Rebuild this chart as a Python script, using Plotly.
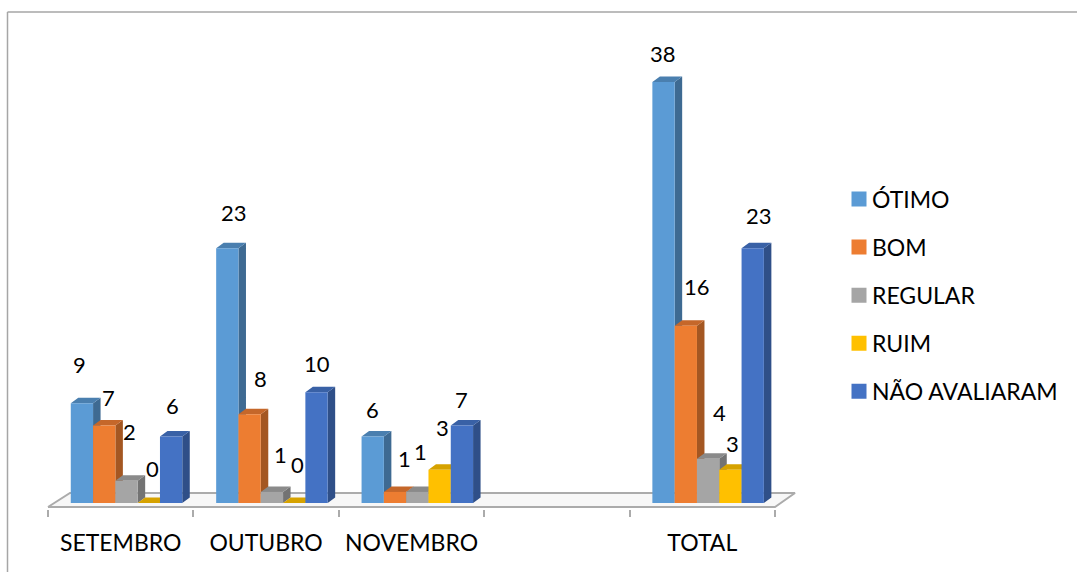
import plotly.graph_objects as go

# ---- data ----
categories = ["SETEMBRO", "OUTUBRO", "NOVEMBRO", "", "TOTAL"]
otimo = [9, 23, 6, None, 38]
bom = [7, 8, 1, None, 16]
regular = [2, 1, 1, None, 4]
ruim = [0, 0, 3, None, 3]
nao_avaliaram = [6, 10, 7, None, 23]
series_names = ["ÓTIMO", "BOM", "REGULAR", "RUIM", "NÃO AVALIARAM"]
series_values = [otimo, bom, regular, ruim, nao_avaliaram]

# ---- style ----
front_colors = ["#5B9BD5", "#ED7D31", "#A5A5A5", "#FFC000", "#4472C4"]
side_colors = ["#3E6A92", "#A45722", "#737373", "#B28600", "#2F4F88"]
top_colors = ["#4A7FAF", "#C5672A", "#8A8A8A", "#D6A200", "#3961A6"]
# label offsets in pixels from the top-centre of each bar (dx, dy), per series, per category
label_offsets = [
    [(-2, 39), (7, 36), (0, 27), None, (-1, 28)],
    [(4, 28), (11, 36), (9, 33), None, (11, 39)],
    [(3, 49), (9, 37), (3, 40), None, (11, 46)],
    [(4, 35), (3, 39), (3, 42), None, (2, 26)],
    [(1, 31), (0, 29), (0, 26), None, (6, 33)],
]
FONT = "Lato"
GREY = "#ABABAB"

PX_X = 145.4     # pixels per category
PX_Y = 11.08     # pixels per unit
BAR_W = 22.3 / PX_X
GROUP_SHIFT = 0.04
DX = 7.5 / PX_X   # depth
DY = 5.5 / PX_Y

fig = go.Figure()

# floor
fig.add_trace(go.Scatter(
    x=[0, 22 / PX_X, 5 + 20 / PX_X, 5, 0],
    y=[-0.36, 0.9, 0.9, -0.36, -0.36],
    mode="lines", fill="toself", fillcolor="#F7F7F7",
    line=dict(color=GREY, width=2), showlegend=False, hoverinfo="skip", zorder=0,
))

n = len(series_names)
for k, (name, vals) in enumerate(zip(series_names, series_values)):
    lefts = [g + 0.5 + GROUP_SHIFT + (k - n / 2) * BAR_W for g in range(len(categories))]
    side_x, side_y, top_x, top_y = [], [], [], []
    for l, v in zip(lefts, vals):
        if v is None:
            continue
        r = l + BAR_W
        side_x += [r, r + DX, r + DX, r, r, None]
        side_y += [0, DY, v + DY, v, 0, None]
        top_x += [l, l + DX, r + DX, r, l, None]
        top_y += [v, v + DY, v + DY, v, v, None]
    fig.add_trace(go.Scatter(x=side_x, y=side_y, mode="none", fill="toself",
                             fillcolor=side_colors[k], showlegend=False,
                             hoverinfo="skip", zorder=2 * k + 1))
    fig.add_trace(go.Scatter(x=top_x, y=top_y, mode="none", fill="toself",
                             fillcolor=top_colors[k], showlegend=False,
                             hoverinfo="skip", zorder=2 * k + 1))
    fig.add_trace(go.Bar(
        x=[g + 0.5 + GROUP_SHIFT for g in range(len(categories))], y=vals,
        width=BAR_W, offset=(k - n / 2) * BAR_W,
        marker=dict(color=front_colors[k], line=dict(width=0)),
        name=name, showlegend=False, zorder=2 * k + 2,
    ))
    # legend swatch
    fig.add_trace(go.Scatter(
        x=[None], y=[None], mode="markers", name=name,
        marker=dict(symbol="square", size=15, color=front_colors[k]),
        legendgroup=name,
    ))
    # value labels
    for g, v in enumerate(vals):
        if v is None:
            continue
        ox, oy = label_offsets[k][g]
        fig.add_annotation(
            x=lefts[g] + BAR_W / 2, y=v, text=str(v), showarrow=False,
            xshift=ox, yshift=oy, xanchor="center", yanchor="middle",
            font=dict(family=FONT, size=22, color="#000000"),
        )

# outer frame (paper coords)
L, R, T, B = 40, 272, 12, 63
W, H = 1077, 572
pw, ph = W - L - R, H - T - B
fx = lambda px: (px - L) / pw
fy = lambda py: (H - B - py) / ph
frame = dict(type="line", xref="paper", yref="paper",
             line=dict(color="#A6A6A6", width=1.5))
fig.add_shape(x0=fx(7.5), x1=fx(7.5), y0=fy(12), y1=fy(572), **frame)
fig.add_shape(x0=fx(7.5), x1=fx(1077), y0=fy(12), y1=fy(12), **frame)

fig.update_layout(
    width=W, height=H, autosize=False,
    margin=dict(l=L, r=R, t=T, b=B, pad=0),
    paper_bgcolor="white", plot_bgcolor="white",
    barmode="overlay",
    font=dict(family=FONT, size=23, color="#000000"),
    showlegend=True,
    legend=dict(x=fx(838), y=fy(177.5), xanchor="left", yanchor="top",
                bgcolor="rgba(0,0,0,0)", tracegroupgap=15.2, indentation=-6,
                font=dict(family=FONT, size=23), itemclick=False),
    xaxis=dict(
        range=[(L - 48) / PX_X, (1077 - R - 48) / PX_X],
        tickmode="array",
        tickvals=[g + 0.5 for g in range(len(categories))],
        ticktext=categories,
        ticks="outside", ticklen=13, tickcolor="rgba(0,0,0,0)",
        tickangle=0,
        showgrid=False, zeroline=False, showline=False,
        tickfont=dict(family=FONT, size=23),
        minor=dict(tickmode="linear", tick0=0, dtick=1, ticks="outside", ticklen=7,
                   tickwidth=1.5, tickcolor=GREY, showgrid=False),
    ),
    yaxis=dict(
        range=[(503 - (H - B)) / PX_Y, (503 - T) / PX_Y],
        visible=False, showgrid=False, zeroline=False,
    ),
)

fig.write_html(
    "out.html", config={"displayModeBar": False},
    post_script=(
        "document.body.style.margin='0';document.body.style.overflow='hidden';"
        "document.querySelectorAll('.legendsymbols').forEach(function(e){"
        "e.setAttribute('transform','translate(7,0)');});"
    ),
)
